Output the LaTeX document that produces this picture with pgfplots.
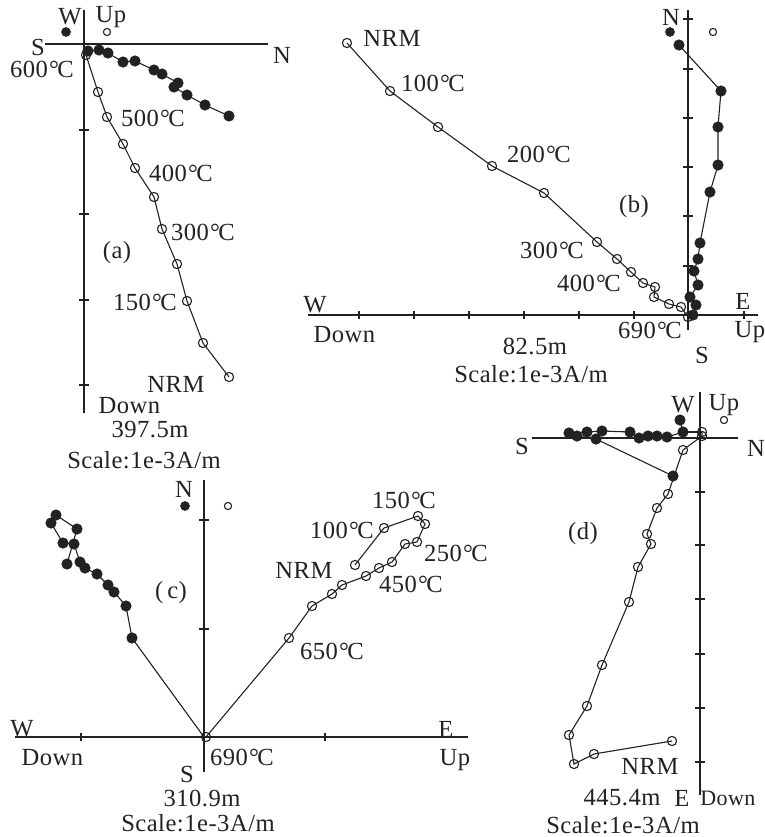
\documentclass[border=0pt]{standalone}
\usepackage{fontspec}
\setmainfont{Liberation Serif}[LetterSpace=2]
\usepackage{pgfplots}
\pgfplotsset{compat=1.18}
\definecolor{ink}{HTML}{222222}
\newcommand{\dc}{\kern0.04em°\kern-0.06em C}
\begin{document}
\fontsize{12.3}{14}\selectfont\color{ink}%
\begin{tikzpicture}[x=0.5pt,y=0.5pt]
\useasboundingbox (0,0) rectangle (765,837);
\begin{axis}[at={(0,0)}, anchor=south west, scale only axis,
  width=382.5pt, height=418.5pt, xmin=0, xmax=765, ymin=0, ymax=837,
  y dir=reverse, hide axis, clip=false,
  axl/.style={draw=ink, line width=1pt, no markers},
  tkh/.style={only marks, mark=|, mark size=2pt, mark options={draw=ink, line width=1pt}},
  tkv/.style={only marks, mark=-, mark size=2.5pt, mark options={draw=ink, line width=1pt}},
  fil/.style={ink, line width=0.55pt, mark=*, mark size=2.5pt, mark options={fill=ink, draw=ink}},
  opn/.style={ink, line width=0.55pt, mark=o, mark size=2.3pt, mark options={draw=ink, line width=0.55pt}},
  lfil/.style={only marks, mark=*, mark size=2.2pt, mark options={fill=ink, draw=ink}},
  lopn/.style={only marks, mark=o, mark size=1.8pt, mark options={draw=ink, line width=0.55pt}},
  lin/.style={ink, line width=0.55pt, no markers},
  every node/.append style={text=ink, font=\fontsize{12.3}{14}\selectfont, inner sep=0pt},
]
% ---------------- (a) ----------------
\addplot[axl] coordinates {(45,44) (268,44)};
\addplot[axl] coordinates {(84,10) (84,413)};
\addplot[tkv] coordinates {(84,130) (84,214) (84,300) (84,385)};
\addplot[lfil] coordinates {(66,32)};
\addplot[lopn] coordinates {(107,32)};
\addplot[fil] coordinates {(88,51) (99,50) (108,53) (123,62) (135,61) (154,70) (162,74) (178,83) (174,87) (187,95) (205,105) (229,116)};
\addplot[opn] coordinates {(86,55) (98,92) (107,117) (123,144) (135,168) (154,197) (162,229) (177,264) (187,301) (203,343) (229,377)};
\node at (axis cs:70,17) {W};
\node at (axis cs:111,17) {Up};
\node at (axis cs:38,47) {S};
\node at (axis cs:42,69) {600\dc};
\node at (axis cs:282,55) {N};
\node at (axis cs:153,118) {500\dc};
\node at (axis cs:181,173) {400\dc};
\node at (axis cs:203,232) {300\dc};
\node at (axis cs:117,253) {(a)};
\node at (axis cs:145,302) {150\dc};
\node at (axis cs:176,384) {NRM};
\node[anchor=west] at (axis cs:90,406) {Down};
\node at (axis cs:150,430) {397.5m};
\node at (axis cs:144,460) {Scale:1e-3A/m};
% ---------------- (b) ----------------
\addplot[axl] coordinates {(308,315) (758,315)};
\addplot[axl] coordinates {(688,10) (688,330)};
\addplot[tkh] coordinates {(359,315) (414,315) (469,315) (524,315) (579,315) (634,315) (744,315)};
\addplot[tkv] coordinates {(688,19) (688,69) (688,118) (688,167) (688,216) (688,266)};
\addplot[lfil] coordinates {(670,32)};
\addplot[lopn] coordinates {(713,32)};
\addplot[fil] coordinates {(679,45) (721,91) (718,127) (718,165) (710,192) (700,243) (698,259) (694,271) (698,285) (690,297) (696,305) (693,315)};
\addplot[opn] coordinates {(347,43) (390,91) (438,127) (492,166) (544,193) (597,242) (617,259) (631,272) (643,283) (655,287) (654,297) (669,304) (681,307) (688,317)};
\node at (axis cs:671,17) {N};
\node at (axis cs:315,305) {W};
\node[anchor=west] at (axis cs:305,335) {Down};
\node at (axis cs:743,301) {E};
\node at (axis cs:750,332) {Up};
\node at (axis cs:702,355) {S};
\node at (axis cs:650,330) {690\dc};
\node at (axis cs:535,346) {82.5m};
\node at (axis cs:531,374) {Scale:1e-3A/m};
\node at (axis cs:634,207) {(b)};
\node at (axis cs:552,250) {300\dc};
\node at (axis cs:589,283) {400\dc};
\node at (axis cs:392,38) {NRM};
\node at (axis cs:433,83) {100\dc};
\node at (axis cs:539,154) {200\dc};
% ---------------- (c) ----------------
\addplot[axl] coordinates {(15,737) (468,737)};
\addplot[axl] coordinates {(204,480) (204,772)};
\addplot[tkh] coordinates {(81,737) (325,737)};
\addplot[tkv] coordinates {(204,520) (204,629)};
\addplot[lfil] coordinates {(185,506)};
\addplot[lopn] coordinates {(228,506)};
\addplot[lin] coordinates {(132,638) (204,737)};
\addplot[fil] coordinates {(67,564) (77,529) (56,515) (51,523) (63,543) (74,544) (80,562) (85,568) (97,574) (108,585) (114,592) (126,606) (132,638)};
\addplot[opn] coordinates {(355,565) (384,528) (418,516) (425,524) (417,542) (405,544) (392,562) (379,568) (366,576) (342,585) (332,594) (312,606) (289,638) (206,737)};
\node at (axis cs:184,489) {N};
\node at (axis cs:22,729) {W};
\node[anchor=west] at (axis cs:13,758) {Down};
\node at (axis cs:187,774) {S};
\node at (axis cs:202,798) {310.9m};
\node at (axis cs:198,823) {Scale:1e-3A/m};
\node at (axis cs:242,757) {690\dc};
\node at (axis cs:446,729) {E};
\node at (axis cs:455,760) {Up};
\node at (axis cs:171,593) {(\,c)};
\node at (axis cs:404,500) {150\dc};
\node at (axis cs:342,530) {100\dc};
\node at (axis cs:456,553) {250\dc};
\node at (axis cs:304,570) {NRM};
\node at (axis cs:411,584) {450\dc};
\node at (axis cs:332,651) {650\dc};
% ---------------- (d) ----------------
\addplot[axl] coordinates {(532,438) (738,438)};
\addplot[axl] coordinates {(700,392) (700,795)};
\addplot[tkv] coordinates {(700,492) (700,545) (700,599) (700,654) (700,708) (700,762)};
\addplot[lopn] coordinates {(724,420)};
\addplot[lin] coordinates {(683,432) (702,432)};
\addplot[fil] coordinates {(673,476) (596,439) (577,436) (569,433) (587,432) (602,431) (630,432) (639,438) (648,436) (657,436) (667,437) (683,432) (680,420)};
\addplot[opn] coordinates {(672,741) (594,754) (574,764) (569,735) (587,706) (602,665) (629,602) (638,567) (651,544) (647,534) (657,508) (668,494) (683,450) (702,436) (702,432)};
\node at (axis cs:683,405) {W};
\node at (axis cs:724,405) {Up};
\node at (axis cs:522,446) {S};
\node at (axis cs:756,448) {N};
\node at (axis cs:583,534) {(d)};
\node at (axis cs:650,766) {NRM};
\node at (axis cs:622,798) {445.4m};
\node at (axis cs:682,798) {E};
\node[anchor=east] at (axis cs:764,798) {\fontsize{11}{14}\selectfont Down};
\node at (axis cs:623,825) {Scale:1e-3A/m};
\end{axis}
\end{tikzpicture}
\end{document}
